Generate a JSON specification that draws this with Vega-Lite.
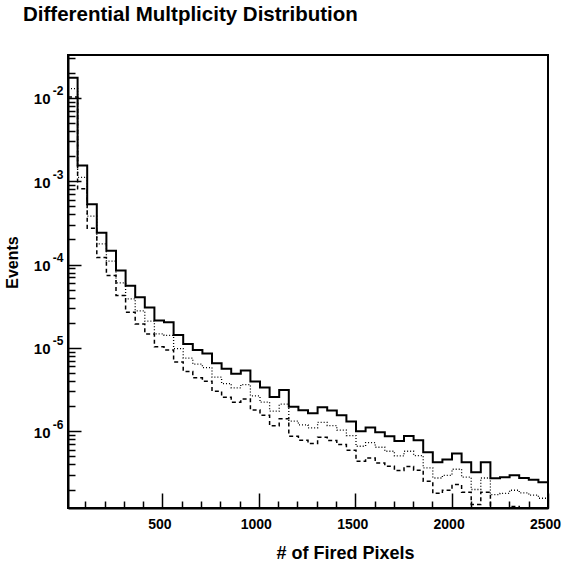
{
  "$schema": "https://vega.github.io/schema/vega-lite/v6.json",
  "width": 480,
  "height": 453,
  "autosize": {"type": "none"},
  "padding": {"left": 68, "top": 55, "right": 15, "bottom": 58},
  "background": "white",
  "config": {
    "font": "Liberation Sans",
    "view": {"stroke": "black", "strokeWidth": 2},
    "axis": {"grid": false, "domainColor": "black", "domainWidth": 2, "tickColor": "black", "tickWidth": 1.5, "labelColor": "black", "titleColor": "black", "labelFont": "Liberation Sans", "titleFont": "Liberation Sans"}
  },
  "title": {"text": "Differential Multplicity Distribution", "anchor": "start", "frame": "group", "dx": -45, "offset": 14, "baseline": "alphabetic", "fontSize": 20.5, "fontWeight": "bold", "font": "Liberation Sans", "color": "black"},
  "data": {"values": [
    {"x": 10, "solid": 0.0174, "dotted": 0.0129, "dashed": 0.0102},
    {"x": 59.8, "solid": 0.00154, "dotted": 0.001107, "dashed": 0.000809},
    {"x": 109.6, "solid": 0.00053, "dotted": 0.00038, "dashed": 0.000273},
    {"x": 159.4, "solid": 0.00024, "dotted": 0.000177, "dashed": 0.000121},
    {"x": 209.2, "solid": 0.000146, "dotted": 0.00011, "dashed": 0.0000738},
    {"x": 259, "solid": 0.0000847, "dotted": 0.0000603, "dashed": 0.0000425},
    {"x": 308.8, "solid": 0.0000555, "dotted": 0.0000387, "dashed": 0.0000268},
    {"x": 358.6, "solid": 0.0000406, "dotted": 0.0000278, "dashed": 0.0000194},
    {"x": 408.4, "solid": 0.0000305, "dotted": 0.0000209, "dashed": 0.0000147},
    {"x": 458.2, "solid": 0.0000213, "dotted": 0.0000147, "dashed": 0.0000103},
    {"x": 508, "solid": 0.0000203, "dotted": 0.0000141, "dashed": 0.00000946},
    {"x": 557.8, "solid": 0.0000143, "dotted": 0.00000982, "dashed": 0.00000679},
    {"x": 607.6, "solid": 0.0000111, "dotted": 0.00000752, "dashed": 0.0000052},
    {"x": 657.4, "solid": 0.00000946, "dotted": 0.00000637, "dashed": 0.00000437},
    {"x": 707.2, "solid": 0.00000855, "dotted": 0.00000581, "dashed": 0.00000398},
    {"x": 757, "solid": 0.00000655, "dotted": 0.00000445, "dashed": 0.00000302},
    {"x": 806.8, "solid": 0.0000056, "dotted": 0.00000373, "dashed": 0.00000256},
    {"x": 856.6, "solid": 0.00000488, "dotted": 0.00000331, "dashed": 0.00000223},
    {"x": 906.4, "solid": 0.00000535, "dotted": 0.00000363, "dashed": 0.00000244},
    {"x": 956.2, "solid": 0.00000394, "dotted": 0.00000265, "dashed": 0.0000018},
    {"x": 1006, "solid": 0.00000334, "dotted": 0.00000223, "dashed": 0.00000156},
    {"x": 1055.8, "solid": 0.00000258, "dotted": 0.00000174, "dashed": 0.00000116},
    {"x": 1105.6, "solid": 0.00000313, "dotted": 0.00000211, "dashed": 0.00000141},
    {"x": 1155.4, "solid": 0.00000196, "dotted": 0.00000132, "dashed": 0.000000871},
    {"x": 1205.2, "solid": 0.00000179, "dotted": 0.00000119, "dashed": 0.00000078},
    {"x": 1255, "solid": 0.00000164, "dotted": 0.0000011, "dashed": 0.000000711},
    {"x": 1304.8, "solid": 0.00000194, "dotted": 0.00000128, "dashed": 0.000000847},
    {"x": 1354.6, "solid": 0.00000177, "dotted": 0.00000117, "dashed": 0.000000773},
    {"x": 1404.4, "solid": 0.00000156, "dotted": 0.00000103, "dashed": 0.000000692},
    {"x": 1454.2, "solid": 0.00000131, "dotted": 0.000000887, "dashed": 0.000000592},
    {"x": 1504, "solid": 0.000001, "dotted": 0.000000661, "dashed": 0.000000437},
    {"x": 1553.8, "solid": 0.00000111, "dotted": 0.000000731, "dashed": 0.000000479},
    {"x": 1603.6, "solid": 0.000000973, "dotted": 0.000000643, "dashed": 0.000000417},
    {"x": 1653.4, "solid": 0.000000871, "dotted": 0.000000575, "dashed": 0.00000038},
    {"x": 1703.2, "solid": 0.000000766, "dotted": 0.000000506, "dashed": 0.000000337},
    {"x": 1753, "solid": 0.000000879, "dotted": 0.000000575, "dashed": 0.000000377},
    {"x": 1802.8, "solid": 0.00000078, "dotted": 0.000000511, "dashed": 0.00000034},
    {"x": 1852.6, "solid": 0.00000056, "dotted": 0.000000363, "dashed": 0.000000251},
    {"x": 1902.4, "solid": 0.000000425, "dotted": 0.000000275, "dashed": 0.00000018},
    {"x": 1952.2, "solid": 0.000000457, "dotted": 0.000000296, "dashed": 0.000000196},
    {"x": 2002, "solid": 0.00000054, "dotted": 0.00000035, "dashed": 0.000000229},
    {"x": 2051.8, "solid": 0.000000425, "dotted": 0.000000281, "dashed": 0.000000185},
    {"x": 2101.6, "solid": 0.000000322, "dotted": 0.0000002, "dashed": 0.000000132},
    {"x": 2151.4, "solid": 0.000000425, "dotted": 0.000000275, "dashed": 0.000000185},
    {"x": 2201.2, "solid": 0.000000273, "dotted": 0.000000174, "dashed": 0.0000001},
    {"x": 2251, "solid": 0.000000281, "dotted": 0.00000018, "dashed": 0.0000001},
    {"x": 2300.8, "solid": 0.000000296, "dotted": 0.000000196, "dashed": 0.000000125},
    {"x": 2350.6, "solid": 0.000000275, "dotted": 0.000000182, "dashed": 0.0000001},
    {"x": 2400.4, "solid": 0.000000261, "dotted": 0.000000171, "dashed": 0.0000001},
    {"x": 2450.2, "solid": 0.000000244, "dotted": 0.000000157, "dashed": 0.0000001},
    {"x": 2500, "solid": 0.000000244, "dotted": 0.000000157, "dashed": 0.0000001}
  ]},
  "resolve": {"axis": {"x": "independent", "y": "independent"}},
  "layer": [
    {
      "mark": {"type": "line", "interpolate": "step-after", "color": "black", "strokeWidth": 2, "clip": true},
      "encoding": {
        "x": {"field": "x", "type": "quantitative", "scale": {"domain": [10, 2500], "nice": false, "zero": false},
          "axis": {"orient": "bottom", "values": [500, 1000, 1500, 2000, 2500], "tickSize": -15, "labels": false, "title": "# of Fired Pixels", "titleFontSize": 18, "titleFontWeight": "bold", "titleX": 277, "titleY": 45, "titleAlign": "center", "titleBaseline": "middle"}},
        "y": {"field": "solid", "type": "quantitative", "scale": {"type": "log", "domain": [1.2e-7, 0.0326], "nice": false},
          "axis": {"orient": "left", "values": [1e-6, 1e-5, 1e-4, 1e-3, 1e-2], "tickSize": -13, "labels": false, "title": "Events", "titleFontSize": 16, "titleFontWeight": "bold", "titleAngle": -90, "titleX": -56, "titleY": 207, "titleAlign": "center", "titleBaseline": "middle"}}
      }
    },
    {
      "mark": {"type": "line", "interpolate": "step-after", "color": "black", "strokeWidth": 1.3, "strokeDash": [1, 2], "clip": true},
      "encoding": {
        "x": {"field": "x", "type": "quantitative", "scale": {"domain": [10, 2500], "nice": false, "zero": false},
          "axis": {"orient": "bottom", "values": [100, 200, 300, 400, 600, 700, 800, 900, 1100, 1200, 1300, 1400, 1600, 1700, 1800, 1900, 2100, 2200, 2300, 2400], "tickSize": -7, "labels": false, "domain": false, "title": null}},
        "y": {"field": "dotted", "type": "quantitative", "scale": {"type": "log", "domain": [1.2e-7, 0.0326], "nice": false},
          "axis": {"orient": "left", "values": [2e-7, 3e-7, 4e-7, 5e-7, 6e-7, 7e-7, 8e-7, 9e-7, 2e-6, 3e-6, 4e-6, 5e-6, 6e-6, 7e-6, 8e-6, 9e-6, 2e-5, 3e-5, 4e-5, 5e-5, 6e-5, 7e-5, 8e-5, 9e-5, 2e-4, 3e-4, 4e-4, 5e-4, 6e-4, 7e-4, 8e-4, 9e-4, 2e-3, 3e-3, 4e-3, 5e-3, 6e-3, 7e-3, 8e-3, 9e-3, 2e-2, 3e-2], "tickSize": -7, "labels": false, "domain": false, "title": null}}
      }
    },
    {
      "mark": {"type": "line", "interpolate": "step-after", "color": "black", "strokeWidth": 1.5, "strokeDash": [4, 3], "clip": true},
      "encoding": {
        "x": {"field": "x", "type": "quantitative", "scale": {"domain": [10, 2500], "nice": false, "zero": false},
          "axis": {"orient": "bottom", "values": [500, 1000, 1500, 2000, 2500], "format": "d", "ticks": false, "domain": false, "labelPadding": 9, "labelOffset": -3, "labelFontSize": 14, "labelFontWeight": "bold", "labelFlush": false, "labelOverlap": false, "title": null}},
        "y": {"field": "dashed", "type": "quantitative", "scale": {"type": "log", "domain": [1.2e-7, 0.0326], "nice": false},
          "axis": {"orient": "left", "values": [1e-6, 1e-5, 1e-4, 1e-3, 1e-2], "ticks": false, "domain": false, "labelExpr": "'10'", "labelPadding": 18, "labelOffset": 1, "labelFontSize": 15, "labelFontWeight": "bold", "labelOverlap": false, "title": null}}
      }
    },
    {
      "mark": {"type": "line", "opacity": 0, "clip": true},
      "encoding": {
        "x": {"field": "x", "type": "quantitative", "scale": {"domain": [10, 2500], "nice": false, "zero": false}, "axis": null},
        "y": {"field": "solid", "type": "quantitative", "scale": {"type": "log", "domain": [1.2e-7, 0.0326], "nice": false},
          "axis": {"orient": "left", "values": [1e-6, 1e-5, 1e-4, 1e-3, 1e-2], "ticks": false, "domain": false, "labelExpr": "'' + round(log(datum.value) / LN10)", "labelPadding": 5, "labelOffset": -7, "labelFontSize": 12, "labelFontWeight": "bold", "labelOverlap": false, "title": null}}
      }
    }
  ]
}
